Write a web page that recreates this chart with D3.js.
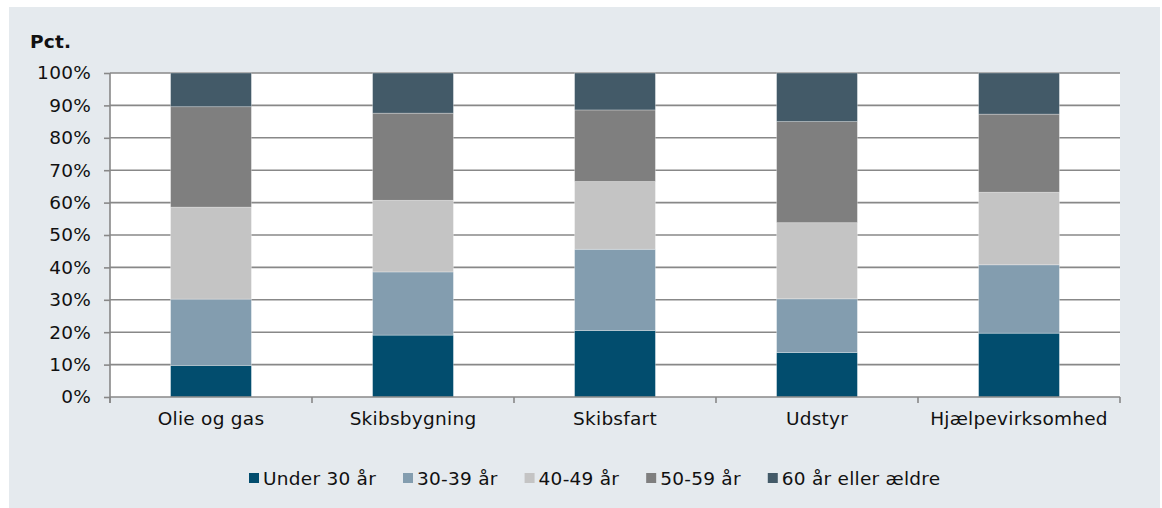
<!DOCTYPE html>
<html lang="da">
<head>
<meta charset="UTF-8">
<title>Aldersfordeling</title>
<script src="https://d3js.org/d3.v7.min.js"></script>
<style>
  body { margin: 0; background: #fff; }
  svg text { font-family: "DejaVu Sans", Verdana, sans-serif; fill: #111; letter-spacing: 0.25px; }
</style>
</head>
<body>
<script>
const categories = ["Olie og gas", "Skibsbygning", "Skibsfart", "Udstyr", "Hjælpevirksomhed"];
const seriesNames = ["Under 30 år", "30-39 år", "40-49 år", "50-59 år", "60 år eller ældre"];
const under30 = [9.7, 19.1, 20.5, 13.7, 19.7];
const age3039 = [20.5, 19.5, 25.1, 16.6, 21.1];
const age4049 = [28.4, 22.1, 20.9, 23.5, 22.4];
const age5059 = [31.0, 26.9, 22.1, 31.2, 24.1];
const age60 = [10.4, 12.4, 11.4, 15.0, 12.7];
const yTicks = [0, 10, 20, 30, 40, 50, 60, 70, 80, 90, 100];
const colors = ["#024d6e", "#839daf", "#c4c4c4", "#7f7f7f", "#435a68"];

const width = 1162, height = 508;
const plotLeft = 110, plotRight = 1120, plotTop = 73, plotBottom = 397;
const fontSize = 18.5;

// rows for d3.stack
const rows = categories.map((c, i) => ({
  cat: c,
  [seriesNames[0]]: under30[i],
  [seriesNames[1]]: age3039[i],
  [seriesNames[2]]: age4049[i],
  [seriesNames[3]]: age5059[i],
  [seriesNames[4]]: age60[i]
}));
const stacked = d3.stack().keys(seriesNames)(rows);

const svg = d3.select("body").append("svg")
  .attr("width", width)
  .attr("height", height);

// panel
svg.append("rect")
  .attr("x", 9).attr("y", 7)
  .attr("width", 1151).attr("height", 501)
  .attr("fill", "#e5eaee");

svg.append("rect")
  .attr("x", plotLeft).attr("y", plotTop)
  .attr("width", plotRight - plotLeft).attr("height", plotBottom - plotTop)
  .attr("fill", "#fff");

const x = d3.scaleBand()
  .domain(categories)
  .range([plotLeft, plotRight])
  .paddingInner(0.6)
  .paddingOuter(0.3);

const y = d3.scaleLinear()
  .domain([0, 100])
  .range([plotBottom, plotTop]);

// gridlines
svg.append("g")
  .selectAll("line")
  .data(yTicks.filter(d => d > 0))
  .enter()
  .append("line")
  .attr("x1", plotLeft).attr("x2", plotRight)
  .attr("y1", d => y(d)).attr("y2", d => y(d))
  .attr("stroke", "#888")
  .attr("stroke-width", 1.6);

// bars
svg.append("g")
  .selectAll("g")
  .data(stacked)
  .enter()
  .append("g")
  .attr("fill", (d, i) => colors[i])
  .selectAll("rect")
  .data(d => d)
  .enter()
  .append("rect")
  .attr("x", d => x(d.data.cat))
  .attr("width", x.bandwidth())
  .attr("y", d => y(d[1]))
  .attr("height", d => y(d[0]) - y(d[1]))
  .attr("stroke", "#fff")
  .attr("stroke-opacity", 0.35)
  .attr("stroke-width", 0.8);

// y axis
const yAxis = svg.append("g")
  .attr("transform", `translate(${plotLeft},0)`)
  .call(d3.axisLeft(y).tickValues(yTicks).tickFormat(d => d + "%").tickSize(6).tickPadding(13));
yAxis.select(".domain").attr("stroke", "#888").attr("stroke-width", 1.6)
  .attr("d", `M0,${plotTop}V${plotBottom + 6}`);
yAxis.selectAll(".tick line").attr("stroke", "#888").attr("stroke-width", 1.6);
yAxis.selectAll("text").attr("font-size", fontSize).attr("fill", "#111")
  .attr("font-family", "DejaVu Sans, Verdana, sans-serif");

// x axis
const xAxis = svg.append("g")
  .attr("transform", `translate(0,${plotBottom})`)
  .call(d3.axisBottom(x).tickSize(0).tickPadding(15));
xAxis.select(".domain").attr("stroke", "#888").attr("stroke-width", 1.6)
  .attr("d", `M${plotLeft},0H${plotRight}`);
xAxis.selectAll("text").attr("font-size", fontSize).attr("fill", "#111")
  .attr("font-family", "DejaVu Sans, Verdana, sans-serif");

// tick marks between categories
const step = x.step();
const bounds = d3.range(categories.length + 1).map(i =>
  i === 0 ? plotLeft : (i === categories.length ? plotRight : x(categories[i]) - (step - x.bandwidth()) / 2));
svg.append("g")
  .selectAll("line")
  .data(bounds)
  .enter()
  .append("line")
  .attr("x1", d => d).attr("x2", d => d)
  .attr("y1", plotBottom).attr("y2", plotBottom + 6)
  .attr("stroke", "#888")
  .attr("stroke-width", 1.6);

// unit label
svg.append("text")
  .attr("x", 30).attr("y", 48)
  .attr("font-size", fontSize)
  .attr("font-weight", "bold")
  .text("Pct.");

// legend
const legend = svg.append("g");
let lx = 249;
seriesNames.forEach((name, i) => {
  const item = legend.append("g");
  item.append("rect")
    .attr("x", lx).attr("y", 473)
    .attr("width", 10).attr("height", 10)
    .attr("fill", colors[i]);
  const t = item.append("text")
    .attr("x", lx + 14).attr("y", 485)
    .attr("font-size", fontSize)
    .text(name);
  lx += 14 + t.node().getComputedTextLength() + 27;
});
</script>
</body>
</html>
